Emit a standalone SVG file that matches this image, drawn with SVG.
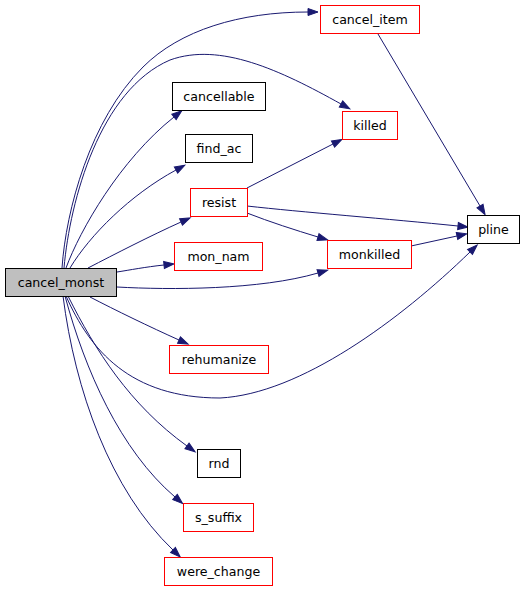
<svg xmlns="http://www.w3.org/2000/svg" width="525" height="591" viewBox="0 0 525 591">
<style>
.n rect{fill:#fff;stroke:#000;stroke-width:1}
.n.r rect{stroke:#ff0000}
.n.m rect{fill:#bfbfbf}
.n text{font-family:"DejaVu Sans",sans-serif;font-size:12.6px;text-anchor:middle;fill:#000}
.e path{fill:none;stroke:#191970;stroke-width:1;marker-end:url(#a)}
</style>
<defs>
<marker id="a" markerUnits="userSpaceOnUse" markerWidth="12" markerHeight="9" refX="0" refY="4" orient="auto" overflow="visible">
<path d="M0,0.5 L10,4 L0,7.5 z" fill="#191970" stroke="#191970" stroke-width="1"/>
</marker>
</defs>
<rect width="525" height="591" fill="#fff"/>
<g id="edges" class="e">
<path d="M62,268 C66,210 90,120 143,67 C180,30 240,12 308,12"/>
<path d="M64,268 C70,200 100,90 170,60 C220,42 280,70 341,104"/>
<path d="M66,268 C80,230 120,160 174,117"/>
<path d="M70,268 C90,235 130,195 176,170"/>
<path d="M88,268 C115,254 150,236 181,222"/>
<path d="M117,272 C130,270 145,267 164,265"/>
<path d="M117,287 C170,290 260,290 318,273"/>
<path d="M66,296 C90,350 130,398 220,398 C300,394 400,320 470,252"/>
<path d="M90,297 C115,310 150,327 179,340"/>
<path d="M68,296 C95,350 130,405 187,446"/>
<path d="M65,296 C85,370 120,450 175,497"/>
<path d="M63,296 C75,390 110,490 173,550"/>
<path d="M378,34 L480,206"/>
<path d="M247,188 L333,144"/>
<path d="M247,206 C300,212 390,219 458,226"/>
<path d="M247,213 C270,222 295,230 318,237"/>
<path d="M411,246 L457,236"/>
</g>
<g id="cancel_monst" class="n m"><rect x="5.5" y="268.5" width="111" height="28"/><text x="61" y="286.5">cancel_monst</text></g>
<g id="cancel_item" class="n r"><rect x="320.5" y="5.5" width="99" height="28"/><text x="370" y="23.5">cancel_item</text></g>
<g id="cancellable" class="n"><rect x="172.5" y="82.5" width="93" height="28"/><text x="219" y="100.5">cancellable</text></g>
<g id="killed" class="n r"><rect x="342.5" y="111.5" width="55" height="28"/><text x="370" y="129.5">killed</text></g>
<g id="find_ac" class="n"><rect x="185.5" y="134.5" width="67" height="28"/><text x="219" y="152.5">find_ac</text></g>
<g id="resist" class="n r"><rect x="190.5" y="188.5" width="57" height="28"/><text x="219" y="206.5">resist</text></g>
<g id="mon_nam" class="n r"><rect x="174.5" y="242.5" width="88" height="28"/><text x="218.5" y="260.5">mon_nam</text></g>
<g id="monkilled" class="n r"><rect x="327.5" y="240.5" width="84" height="28"/><text x="369.5" y="258.5">monkilled</text></g>
<g id="pline" class="n"><rect x="467.5" y="215.5" width="52" height="28"/><text x="493.5" y="233.5">pline</text></g>
<g id="rehumanize" class="n r"><rect x="169.5" y="345.5" width="99" height="28"/><text x="219" y="363.5">rehumanize</text></g>
<g id="rnd" class="n"><rect x="197.5" y="449.5" width="43" height="28"/><text x="219" y="467.5">rnd</text></g>
<g id="s_suffix" class="n r"><rect x="183.5" y="503.5" width="70" height="28"/><text x="218.5" y="521.5">s_suffix</text></g>
<g id="were_change" class="n r"><rect x="164.5" y="557.5" width="108" height="28"/><text x="218.5" y="575.5">were_change</text></g>
</svg>
